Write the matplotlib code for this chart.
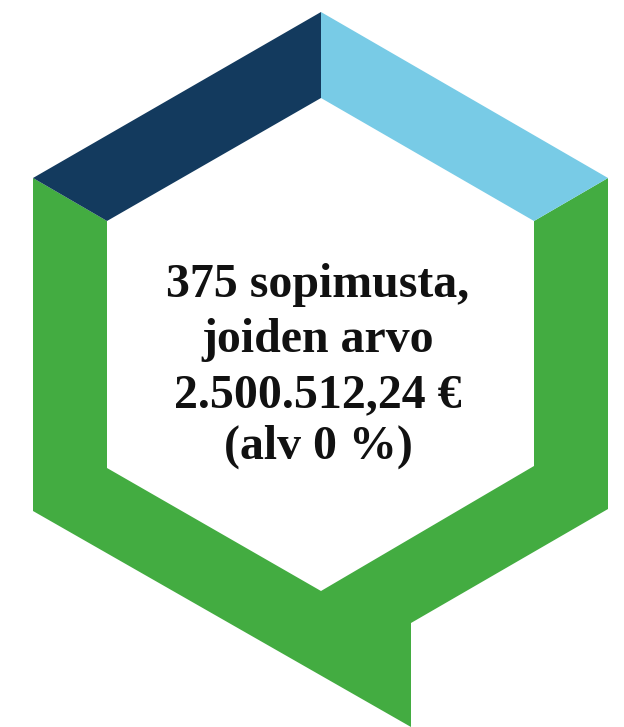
import matplotlib
matplotlib.use("Agg")
from matplotlib import pyplot as plt
from matplotlib.patches import Polygon

# hexagon outline points (pixels, y downwards)
outer_top = (321, 12)
outer_upper_left = (33, 178)
outer_upper_right = (608, 178)
outer_lower_left = (33, 511)
outer_lower_right = (608, 509)
tail_top = (411, 623)
tail_bottom = (411, 727)

inner_top = (321, 98)
inner_upper_left = (107, 221)
inner_upper_right = (534, 221)
inner_lower_left = (107, 468)
inner_lower_right = (534, 466)
inner_bottom = (321, 591)

navy = "#133a5e"
light_blue = "#78cbe6"
green = "#43ac41"

text_lines = ["375 sopimusta,", "joiden arvo", "2.500.512,24 €", "(alv 0 %)"]
text_baselines = [297, 352, 407, 459]

fig = plt.figure(figsize=(6.24, 7.27), dpi=100)
ax = fig.add_axes([0, 0, 1, 1])
ax.set_xlim(0, 624)
ax.set_ylim(727, 0)
ax.axis("off")

green_shape = [outer_upper_left, inner_upper_left, inner_lower_left, inner_bottom,
               inner_lower_right, inner_upper_right, outer_upper_right,
               outer_lower_right, tail_top, tail_bottom, outer_lower_left]
ax.add_patch(Polygon(green_shape, closed=True, facecolor=green, edgecolor="none"))
ax.add_patch(Polygon([outer_upper_left, outer_top, inner_top, inner_upper_left],
                     closed=True, facecolor=navy, edgecolor="none"))
ax.add_patch(Polygon([outer_top, outer_upper_right, inner_upper_right, inner_top],
                     closed=True, facecolor=light_blue, edgecolor="none"))

for line, y in zip(text_lines, text_baselines):
    ax.text(318, y, line, ha="center", va="baseline", fontsize=34.5,
            fontweight="bold", family="Liberation Serif", color="#111111")

fig.savefig("out.png", dpi=100)
